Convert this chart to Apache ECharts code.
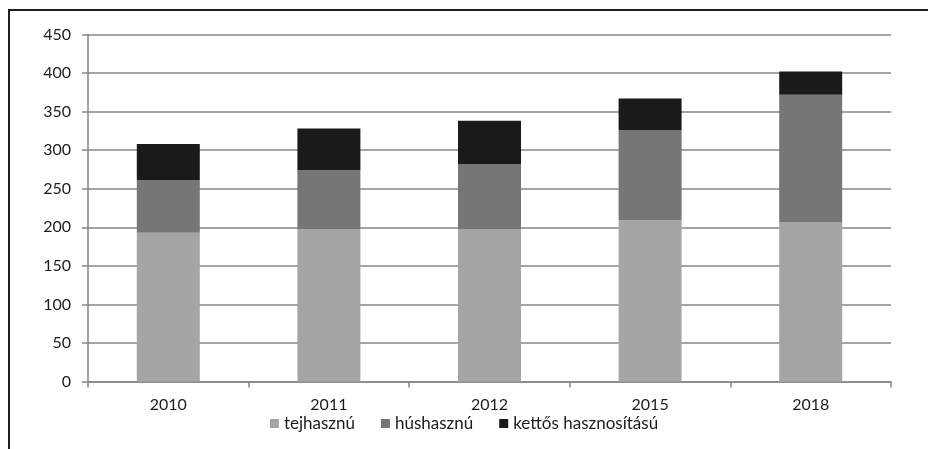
<!DOCTYPE html>
<html>
<head>
<meta charset="utf-8">
<script src="https://cdn.jsdelivr.net/npm/echarts@6/dist/echarts.min.js"></script>
<style>
  html, body { margin: 0; padding: 0; background: #fff; }
  #chart { width: 928px; height: 449px; }
</style>
</head>
<body>
<div id="chart"></div>
<script>
// Years on the category axis
const years = ['2010', '2011', '2012', '2015', '2018'];

// Stacked segments (thousand head) per year
const tejhasznu = [193, 197, 197, 209, 207];
const hushasznu = [68, 77, 85, 117, 165];
const kettos = [47, 54, 56, 41, 30];

const seriesNames = ['tejhasznú', 'húshasznú', 'kettős hasznosítású'];
const seriesColors = ['#a5a5a5', '#767676', '#1a1a1a'];

const fontFamily = 'Lato, "Open Sans", sans-serif';
const textColor = '#1c1c1c';
const lineColor = '#868686';

const chart = echarts.init(document.getElementById('chart'), null, { renderer: 'canvas' });

const mk = (name, data, color) => ({
  name: name,
  type: 'bar',
  stack: 'total',
  data: data,
  barWidth: 63,
  itemStyle: { color: color },
  emphasis: { disabled: true }
});

chart.setOption({
  animation: false,
  backgroundColor: '#ffffff',
  graphic: [{
    type: 'rect',
    shape: { x: 9, y: 10, width: 1200, height: 1200 },
    style: { fill: 'none', stroke: '#1e1e1e', lineWidth: 2 },
    silent: true
  }],
  grid: { left: 88, right: 37, top: 34.5, bottom: 67.5 },
  legend: {
    data: seriesNames,
    bottom: 12,
    left: 'center',
    icon: 'rect',
    itemWidth: 9,
    itemHeight: 9,
    itemGap: 26,
    textStyle: { fontFamily: fontFamily, fontSize: 17, color: textColor }
  },
  xAxis: {
    type: 'category',
    data: years,
    axisLine: { lineStyle: { color: lineColor, width: 1.5 } },
    axisTick: { show: true, length: 6, alignWithLabel: false, lineStyle: { color: lineColor, width: 1.5 } },
    axisLabel: { fontFamily: fontFamily, fontSize: 16, color: textColor, margin: 15 }
  },
  yAxis: {
    type: 'value',
    min: 0,
    max: 450,
    interval: 50,
    axisLine: { show: true, lineStyle: { color: lineColor, width: 1.5 } },
    axisTick: { show: true, length: 6, lineStyle: { color: lineColor, width: 1.5 } },
    axisLabel: { fontFamily: fontFamily, fontSize: 16, color: textColor, margin: 17 },
    splitLine: { show: true, lineStyle: { color: lineColor, width: 1.5 } }
  },
  series: [
    mk(seriesNames[0], tejhasznu, seriesColors[0]),
    mk(seriesNames[1], hushasznu, seriesColors[1]),
    mk(seriesNames[2], kettos, seriesColors[2])
  ]
});
</script>
</body>
</html>
